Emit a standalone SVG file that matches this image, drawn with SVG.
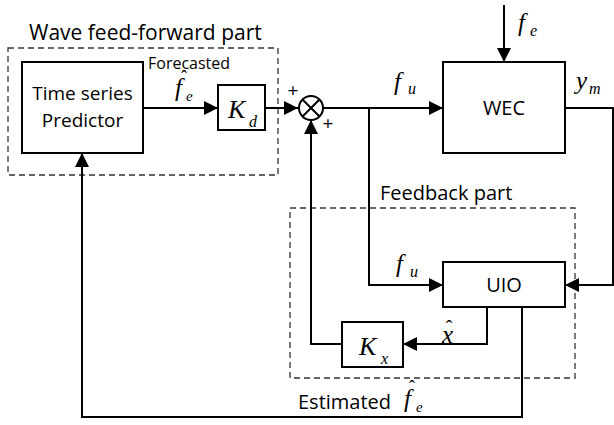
<svg xmlns="http://www.w3.org/2000/svg" width="614" height="425" viewBox="0 0 614 425">
<defs>
<marker id="ah" markerWidth="14" markerHeight="14" refX="14" refY="7" orient="auto" markerUnits="userSpaceOnUse">
<path d="M0,0 L14,7 L0,14 Z" fill="#000"/>
</marker>
<style>
.box{fill:#fff;stroke:#000;stroke-width:2}
.dash{fill:none;stroke:#333;stroke-width:1.3;stroke-dasharray:6 4}
.wire{fill:none;stroke:#000;stroke-width:2}
.sans{font-family:"Open Sans","Noto Sans","DejaVu Sans",sans-serif;fill:#000}
.math{font-family:"Liberation Serif","Times New Roman",serif;font-style:italic;fill:#000}
.hat{font-family:"Liberation Serif","Times New Roman",serif;fill:#000;text-anchor:middle}
</style>
</defs>
<rect width="614" height="425" fill="#fff"/>

<g id="ff-group">
<rect class="dash" x="8" y="48" width="270" height="127"/>
<text class="sans" x="29" y="40" font-size="21">Wave feed-forward part</text>
</g>
<g id="fb-group">
<rect class="dash" x="290" y="208" width="285" height="170"/>
<text class="sans" x="380" y="200" font-size="20">Feedback part</text>
</g>

<g id="connectors">
<path class="wire" d="M143,108 H218" marker-end="url(#ah)"/>
<path class="wire" d="M265,108 H298" marker-end="url(#ah)"/>
<path class="wire" d="M323,108 H443" marker-end="url(#ah)"/>
<path class="wire" d="M504,5 V62" marker-end="url(#ah)"/>
<path class="wire" d="M565,108 H613 V285 H565" marker-end="url(#ah)"/>
<path class="wire" d="M369,108 V285 H443" marker-end="url(#ah)"/>
<path class="wire" d="M487,307 V344 H403" marker-end="url(#ah)"/>
<path class="wire" d="M342,344 H311 V120" marker-end="url(#ah)"/>
<path class="wire" d="M522,307 V417 H82 V153" marker-end="url(#ah)"/>
</g>

<g id="predictor">
<rect class="box" x="22" y="62" width="121" height="91"/>
<text class="sans" x="82.5" y="100" font-size="19" text-anchor="middle">Time series</text>
<text class="sans" x="82.5" y="127" font-size="19" text-anchor="middle">Predictor</text>
</g>

<g id="kd">
<rect class="box" x="218" y="85" width="47" height="45"/>
<text class="math" x="228" y="118" font-size="26">K</text>
<text class="math" x="249" y="127" font-size="16">d</text>
</g>

<g id="sum">
<circle cx="311" cy="108" r="12" fill="#fff" stroke="#000" stroke-width="2"/>
<path class="wire" d="M302.5,99.5 L319.5,116.5 M319.5,99.5 L302.5,116.5"/>
<text class="sans" x="293" y="97" font-size="19" text-anchor="middle">+</text>
<text class="sans" x="328" y="130" font-size="19" text-anchor="middle">+</text>
</g>

<g id="wec">
<rect class="box" x="443" y="62" width="122" height="91"/>
<text class="sans" x="504" y="115" font-size="20" text-anchor="middle">WEC</text>
</g>

<g id="uio">
<rect class="box" x="443" y="262" width="122" height="45"/>
<text class="sans" x="504" y="292" font-size="20" text-anchor="middle">UIO</text>
</g>

<g id="kx">
<rect class="box" x="342" y="322" width="61" height="45"/>
<text class="math" x="359" y="355" font-size="26">K</text>
<text class="math" x="381" y="364" font-size="16">x</text>
</g>

<g id="labels">
<text class="sans" x="148" y="69" font-size="16">Forecasted</text>
<text class="math" x="175" y="96" font-size="25">f</text>
<text class="math" x="186" y="101" font-size="15">e</text>
<text class="hat" x="184" y="83" font-size="18">ˆ</text>
<text class="math" x="394" y="90" font-size="25">f</text>
<text class="math" x="408" y="94" font-size="16">u</text>
<text class="math" x="518" y="31" font-size="25">f</text>
<text class="math" x="530" y="36" font-size="16">e</text>
<text class="math" x="576" y="89" font-size="25">y</text>
<text class="math" x="589" y="94" font-size="16">m</text>
<text class="math" x="396" y="272" font-size="25">f</text>
<text class="math" x="410" y="277" font-size="16">u</text>
<text class="math" x="442" y="343" font-size="25">x</text>
<text class="hat" x="449" y="335" font-size="20">ˆ</text>
<text class="sans" x="298" y="409" font-size="20">Estimated</text>
<text class="math" x="404" y="407" font-size="25">f</text>
<text class="math" x="416" y="412" font-size="15">e</text>
<text class="hat" x="412" y="393" font-size="18">ˆ</text>
</g>
</svg>
